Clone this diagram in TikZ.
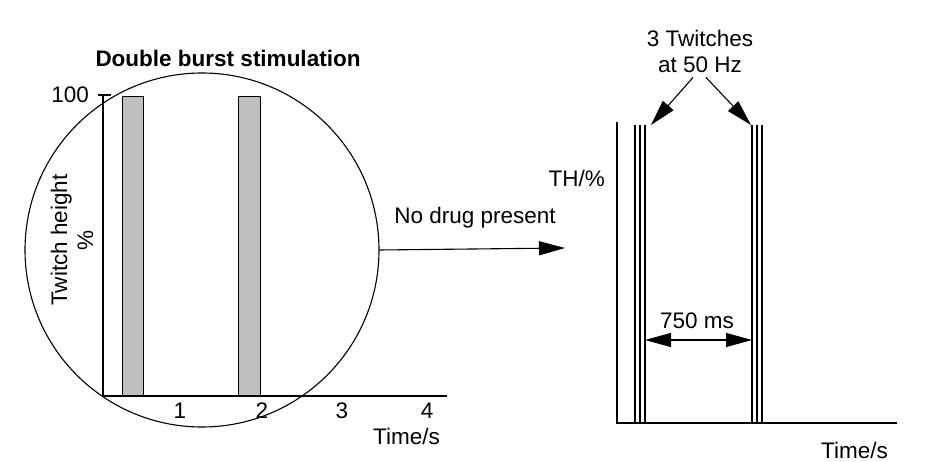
\documentclass[tikz,border=0pt]{standalone}
\usepackage{fontspec}
\setmainfont{Liberation Sans}
\usetikzlibrary{arrows.meta, positioning}
\definecolor{bargray}{HTML}{BEBFC1}

\begin{document}
\begin{tikzpicture}[
    x=1pt, y=-1pt,
    every node/.style={font=\fontsize{22.5}{26}\selectfont, inner sep=0pt},
    title/.style={font=\fontsize{22.5}{26}\selectfont\bfseries},
    axis/.style={line width=1.6pt},
    bar/.style={draw=black, line width=1pt, fill=bargray},
    twitch/.style={line width=1.1pt},
    lens/.style={circle, draw, line width=1.1pt, minimum size=354pt, inner sep=0pt},
    arrow/.style={-{Triangle[length=26pt, width=14pt]}, line width=1.1pt},
    dimarrow/.style={{Triangle[length=26pt, width=14pt]}-{Triangle[length=26pt, width=14pt]}, line width=1.1pt}
]
\useasboundingbox (0,0) rectangle (933,462);

\node[title] (title) at (228,58) {Double burst stimulation};

\node[lens] (lens) at (202,250) {};

\draw[bar] (122,97) rectangle (143,396);
\draw[bar] (238,97) rectangle (260,396);

\draw[axis] (103,95) -- (103,396) -- (447,396);
\draw[axis] (98,95) -- (111,95);

\node[anchor=east] (ymax) at (89,95) {100};
\node[rotate=90, align=center] (ylabel) at (72,240) {Twitch height\\\%};

\foreach \t/\x in {1/180, 2/262, 3/342, 4/427}
    \node (tick\t) at (\x,411) {\t};
\node[anchor=east] (xlabel) at (440,436) {Time/s};

\node (nodrug) at (475,218) {No drug present};
\coordinate (drugend) at (565,248);
\draw[arrow] (lens.east) -- (drugend);

\draw[axis] (617,122) -- (617,423) -- (897,423);
\foreach \x in {635,640,645,752,757,762}
    \draw[twitch] (\x,125) -- (\x,423);

\node[anchor=east] (thlabel) at (605,178) {TH/\%};
\node[anchor=east] (timelabel) at (888,450) {Time/s};

\node[align=center] (twitches) at (700,51) {3 Twitches\\at 50 Hz};
\coordinate (burst1) at (651,125);
\coordinate (burst2) at (751,125);
\draw[arrow] ([xshift=-7pt, yshift=-5pt]twitches.south) -- (burst1);
\draw[arrow] ([xshift=6pt, yshift=-5pt]twitches.south) -- (burst2);

\coordinate (gap1) at (645,340);
\coordinate (gap2) at (752,340);
\draw[dimarrow] (gap1) -- (gap2);
\node (interval) at (697,321) {750 ms};

\end{tikzpicture}
\end{document}
